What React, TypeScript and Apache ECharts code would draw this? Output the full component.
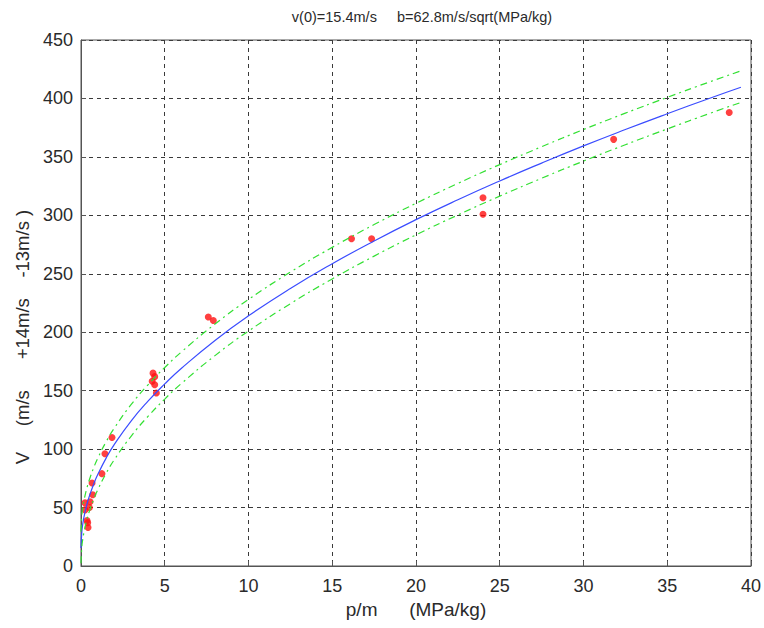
import React, { useEffect, useRef } from "react";
import * as echarts from "echarts";

const titleText = "v(0)=15.4m/s     b=62.8m/s/sqrt(MPa/kg)";
const xAxisName = "p/m      (MPa/kg)";
const yAxisName = "V     (m/s      +14m/s    -13m/s )";

// measured points
const pointsX = [0.24, 0.24, 0.36, 0.42, 0.4, 0.54, 0.7, 0.66, 0.5, 1.25, 1.43, 1.85, 4.3, 4.4, 4.25, 4.4, 4.5, 7.6, 7.9, 16.15, 17.35, 24.0, 24.0, 31.8, 38.7];
const pointsY = [54, 48, 39, 33, 37, 55, 61, 71, 50, 79, 96, 110, 165, 162, 158, 155, 148, 213, 210, 280, 280, 315, 301, 365, 388];

// fitted curve
const curveX = [0, 0.05, 0.1, 0.2, 0.35, 0.5, 0.75, 1, 1.5, 2, 3, 4, 5, 6, 8, 10, 12.5, 15, 17.5, 20, 22.5, 25, 27.5, 30, 32.5, 35, 37.5, 39.4];
const curveY = [15.4, 29.4, 35.3, 43.5, 52.6, 59.8, 69.8, 78.2, 92.3, 104.2, 124.2, 141.0, 155.8, 169.2, 193.0, 214.0, 237.4, 258.6, 278.1, 296.3, 313.3, 329.4, 344.7, 359.4, 373.4, 386.9, 400.0, 409.6];
// upper (+14) and lower (-13) bands
const upperY = [29.4, 43.4, 49.3, 57.5, 66.6, 73.8, 83.8, 92.2, 106.3, 118.2, 138.2, 155.0, 169.8, 183.2, 207.0, 228.0, 251.4, 272.6, 292.1, 310.3, 327.3, 343.4, 358.7, 373.4, 387.4, 400.9, 414.0, 423.6];
const lowerY = [2.4, 16.4, 22.3, 30.5, 39.6, 46.8, 56.8, 65.2, 79.3, 91.2, 111.2, 128.0, 142.8, 156.2, 180.0, 201.0, 224.4, 245.6, 265.1, 283.3, 300.3, 316.4, 331.7, 346.4, 360.4, 373.9, 387.0, 396.6];

const FONT = "Liberation Sans";
const TEXT = "#2a2a2a";

export default function App() {
  const ref = useRef<HTMLDivElement>(null);
  useEffect(() => {
    if (!ref.current) return;
    document.body.style.margin = "0";
    document.body.style.overflow = "hidden";
    const chart = echarts.init(ref.current, undefined, { renderer: "svg" });
    const zip = (xs: number[], ys: number[]) => xs.map((x, i) => [x, ys[i]]);
    const splitStyle = { show: true, lineStyle: { color: "#3a3a3a", type: [4, 4] as any, width: 1 } };
    const green = { color: "#33e033", width: 1.2, type: [7, 4, 2, 4] as any };
    chart.setOption({
      animation: false,
      backgroundColor: "#fff",
      title: {
        text: titleText,
        left: 417,
        textAlign: "center",
        top: 4,
        textStyle: { fontFamily: FONT, fontSize: 14.5, fontWeight: "normal", color: TEXT },
      },
      grid: { left: 81, right: 12, top: 40, bottom: 62, show: true, borderColor: "#555", borderWidth: 1, backgroundColor: "transparent" },
      xAxis: {
        type: "value",
        min: 0,
        max: 40,
        interval: 5,
        name: xAxisName,
        nameLocation: "middle",
        nameGap: 31,
        nameTextStyle: { fontFamily: FONT, fontSize: 19, color: TEXT },
        axisLine: { show: true, lineStyle: { color: "#555" } },
        axisTick: { show: true, inside: true, length: 5, lineStyle: { color: "#555" } },
        axisLabel: { fontFamily: FONT, fontSize: 18, color: TEXT, margin: 11 },
        splitLine: splitStyle,
      },
      yAxis: {
        type: "value",
        min: 0,
        max: 450,
        interval: 50,
        axisLine: { show: true, lineStyle: { color: "#555" } },
        axisTick: { show: true, inside: true, length: 5, lineStyle: { color: "#555" } },
        axisLabel: { fontFamily: FONT, fontSize: 18, color: TEXT, margin: 8 },
        splitLine: splitStyle,
      },
      graphic: [
        {
          type: "text",
          x: 22,
          y: 337,
          rotation: Math.PI / 2,
          style: {
            text: yAxisName,
            fontFamily: FONT,
            fontSize: 18.5,
            fill: TEXT,
            align: "center",
            verticalAlign: "middle",
          },
        },
      ],
      series: [
        {
          type: "scatter",
          data: zip(pointsX, pointsY),
          symbol: "circle",
          symbolSize: 7,
          itemStyle: { color: "#ff1010" },
          z: 2,
        },
        {
          type: "line",
          data: zip(curveX, curveY),
          smooth: true,
          showSymbol: false,
          lineStyle: { color: "#3a4cff", width: 1.2 },
          z: 3,
        },
        {
          type: "line",
          data: zip(curveX, upperY),
          smooth: true,
          showSymbol: false,
          lineStyle: green,
          z: 3,
        },
        {
          type: "line",
          data: zip(curveX, lowerY),
          smooth: true,
          showSymbol: false,
          lineStyle: green,
          z: 3,
        },
      ],
    });
    return () => chart.dispose();
  }, []);
  return <div ref={ref} style={{ width: 764, height: 628, overflow: "hidden" }} />;
}
